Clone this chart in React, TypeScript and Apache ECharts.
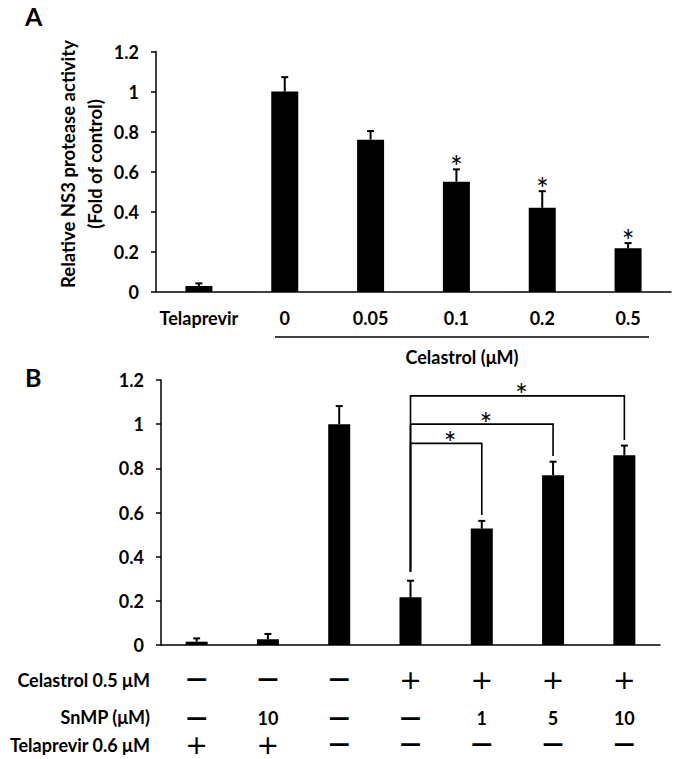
import React, { useEffect, useRef } from "react";
import * as echarts from "echarts";

// Panel A data
const catA = ["Telaprevir", "0", "0.05", "0.1", "0.2", "0.5"];
const valA = [0.03, 1.0, 0.76, 0.55, 0.42, 0.218];
const errA = [0.013, 0.072, 0.043, 0.062, 0.083, 0.026];
const starA = [0, 0, 0, 1, 1, 1];

// Panel B data
const catB = ["g1", "g2", "g3", "g4", "g5", "g6", "g7"];
const valB = [0.015, 0.026, 1.0, 0.216, 0.527, 0.769, 0.859];
const errB = [0.015, 0.024, 0.082, 0.075, 0.035, 0.061, 0.044];

// Treatment table under panel B
const rowLabels = ["Celastrol 0.5 μM", "SnMP (μM)", "Telaprevir 0.6 μM"];
const rowCelastrol = ["-", "-", "-", "+", "+", "+", "+"];
const rowSnMP = ["-", "10", "-", "-", "1", "5", "10"];
const rowTelaprevir = ["+", "+", "-", "-", "-", "-", "-"];

// Significance brackets: [fromIndex, toIndex, height, fromEnd, toEnd]
const brackets = [
  [3, 4, 0.913, 0.332, 0.589],
  [3, 5, 1.0, 0.332, 0.856],
  [3, 6, 1.128, 0.332, 0.928],
];

const Y_MIN = 0;
const Y_MAX = 1.2;
const Y_STEP = 0.2;

const FONT = "Lato";

function starText(x: number, y: number) {
  return {
    type: "text",
    x,
    y,
    style: { text: "*", fontSize: 30, fontFamily: FONT, fill: "#000", align: "center", verticalAlign: "middle" },
  };
}

function errRender(params: any, api: any) {
  const x = api.value(0);
  const v = api.value(1);
  const e = api.value(2);
  const s = api.value(3);
  const p0 = api.coord([x, v]);
  const p1 = api.coord([x, v + e]);
  const children: any[] = [
    { type: "line", shape: { x1: p0[0], y1: p0[1], x2: p1[0], y2: p1[1] }, style: { stroke: "#000", lineWidth: 2 } },
    { type: "line", shape: { x1: p1[0] - 3.5, y1: p1[1], x2: p1[0] + 3.5, y2: p1[1] }, style: { stroke: "#000", lineWidth: 2 } },
  ];
  if (s) children.push(starText(p1[0], p1[1] - 3));
  return { type: "group", children };
}

function bracketRender(params: any, api: any) {
  const a = api.value(0);
  const b = api.value(1);
  const h = api.value(2);
  const ea = api.value(3);
  const eb = api.value(4);
  const pa0 = api.coord([a, ea]);
  const pa1 = api.coord([a, h]);
  const pb1 = api.coord([b, h]);
  const pb0 = api.coord([b, eb]);
  return {
    type: "group",
    children: [
      {
        type: "polyline",
        shape: { points: [pa0, pa1, pb1, pb0] },
        style: { stroke: "#000", lineWidth: 1.6, fill: null },
      },
      starText((pa1[0] + pb1[0]) / 2 + 4, pa1[1] - 1.5),
    ],
  };
}

const symRich = {
  p: { fontFamily: "DejaVu Sans", fontSize: 27, fontWeight: "normal", lineHeight: 22, color: "#000" },
  m: { fontFamily: "DejaVu Sans", fontSize: 21, fontWeight: "bold", lineHeight: 22, color: "#000" },
  n: { fontFamily: FONT, fontSize: 18, fontWeight: "bold", lineHeight: 22, color: "#000" },
};

function symFmt(row: string[]) {
  return (_v: any, i: number) => {
    const s = row[i];
    if (s === "+") return "{p|+}";
    if (s === "-") return "{m|—}";
    return "{n|" + s + "}";
  };
}

function tableAxis(row: string[], offset: number) {
  return {
    type: "category",
    gridIndex: 1,
    data: catB,
    position: "bottom",
    offset,
    axisLine: { show: false },
    axisTick: { show: false },
    axisLabel: { interval: 0, margin: 0, verticalAlign: "middle", formatter: symFmt(row), rich: symRich },
  };
}

const yAxisBase = (gridIndex: number) => ({
  type: "value",
  gridIndex,
  min: Y_MIN,
  max: Y_MAX,
  interval: Y_STEP,
  splitLine: { show: false },
  axisLine: { show: true, lineStyle: { color: "#000", width: 1.5 } },
  axisTick: { show: true, length: 5, lineStyle: { color: "#000", width: 1.5 } },
  axisLabel: { margin: 17, color: "#000", fontFamily: FONT, fontWeight: "bold", fontSize: 18 },
});

export default function App() {
  const ref = useRef<HTMLDivElement>(null);
  useEffect(() => {
    if (!ref.current) return;
    const chart = echarts.init(ref.current, null, { renderer: "svg" });
    const option: any = {
      animation: false,
      backgroundColor: "#fff",
      color: ["#000"],
      grid: [
        { left: 156, top: 51.5, width: 515, height: 240.5 },
        { left: 161, top: 380, width: 499, height: 265 },
      ],
      xAxis: [
        {
          type: "category",
          gridIndex: 0,
          data: catA,
          axisLine: { lineStyle: { color: "#000", width: 1.5 } },
          axisTick: { inside: true, length: 6, interval: 0, lineStyle: { color: "#000", width: 1.5 } },
          axisLabel: { interval: 0, margin: 17, color: "#000", fontFamily: FONT, fontWeight: "bold", fontSize: 18 },
        },
        {
          type: "category",
          gridIndex: 1,
          data: catB,
          axisLine: { lineStyle: { color: "#000", width: 1.5 } },
          axisTick: { inside: true, length: 6, interval: 0, lineStyle: { color: "#000", width: 1.5 } },
          axisLabel: { show: false },
        },
        tableAxis(rowCelastrol, 34),
        tableAxis(rowSnMP, 73),
        tableAxis(rowTelaprevir, 99),
      ],
      yAxis: [yAxisBase(0), yAxisBase(1)],
      series: [
        {
          type: "bar",
          xAxisIndex: 0,
          yAxisIndex: 0,
          data: valA,
          barWidth: 27,
          itemStyle: { color: "#000" },
        },
        {
          type: "custom",
          xAxisIndex: 0,
          yAxisIndex: 0,
          renderItem: errRender,
          encode: { x: 0, y: 1 },
          itemStyle: { color: "#000" },
          data: valA.map((v, i) => [i, v, errA[i], starA[i]]),
          z: 3,
        },
        {
          type: "bar",
          xAxisIndex: 1,
          yAxisIndex: 1,
          data: valB,
          barWidth: 22,
          itemStyle: { color: "#000" },
        },
        {
          type: "custom",
          xAxisIndex: 1,
          yAxisIndex: 1,
          renderItem: errRender,
          encode: { x: 0, y: 1 },
          itemStyle: { color: "#000" },
          data: valB.map((v, i) => [i, v, errB[i], 0]),
          z: 3,
        },
        {
          type: "custom",
          xAxisIndex: 1,
          yAxisIndex: 1,
          renderItem: bracketRender,
          encode: { x: 0, y: 2 },
          itemStyle: { color: "#000" },
          data: brackets,
          z: 4,
        },
      ],
      graphic: [
        { type: "text", left: 25, top: 3, style: { text: "A", fontFamily: FONT, fontWeight: "bold", fontSize: 25, fill: "#000" } },
        { type: "text", left: 25, top: 364, style: { text: "B", fontFamily: FONT, fontWeight: "bold", fontSize: 25, fill: "#000" } },
        {
          type: "text",
          x: 81,
          y: 164,
          rotation: Math.PI / 2,
          style: {
            text: "Relative NS3 protease activity\n(Fold of control)",
            fontFamily: FONT,
            fontWeight: "bold",
            fontSize: 18.5,
            lineHeight: 27,
            fill: "#000",
            align: "center",
            verticalAlign: "middle",
          },
        },
        { type: "line", shape: { x1: 275, y1: 337, x2: 649, y2: 337 }, style: { stroke: "#000", lineWidth: 1.5 } },
        {
          type: "text",
          x: 462,
          y: 357,
          style: { text: "Celastrol (μM)", fontFamily: FONT, fontWeight: "bold", fontSize: 18, fill: "#000", align: "center", verticalAlign: "middle" },
        },
        ...rowLabels.map((t, i) => ({
          type: "text",
          x: 150,
          y: [680, 717, 745][i],
          style: { text: t, fontFamily: FONT, fontWeight: "bold", fontSize: 18, fill: "#000", align: "right", verticalAlign: "middle" },
        })),
      ],
    };
    chart.setOption(option);
    return () => chart.dispose();
  }, []);
  return <div ref={ref} style={{ position: "absolute", left: 0, top: 0, width: 675, height: 759 }} />;
}
